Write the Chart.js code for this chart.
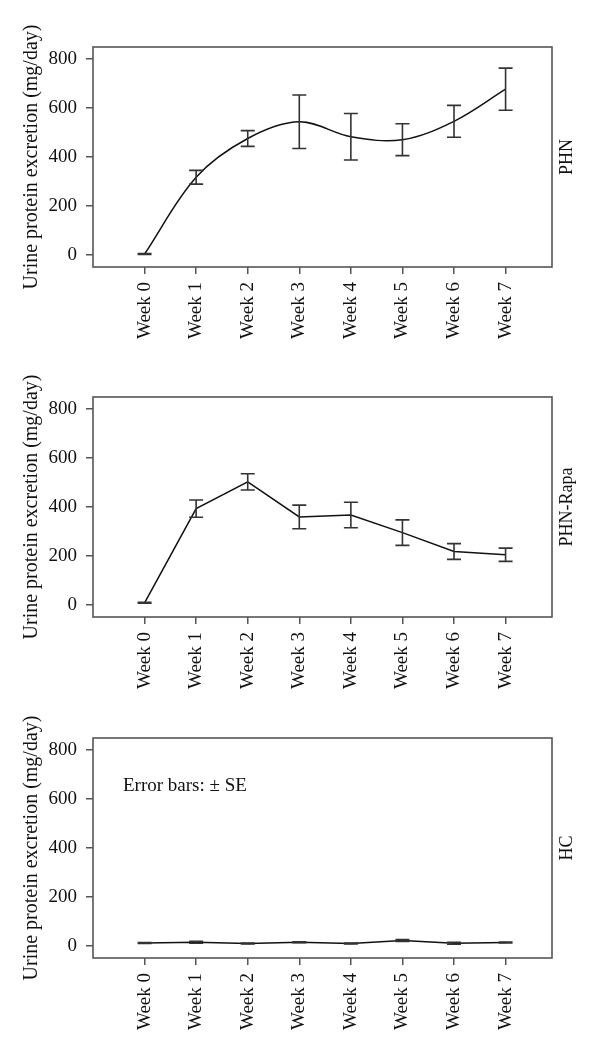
<!DOCTYPE html>
<html>
<head>
<meta charset="utf-8">
<script src="https://cdn.jsdelivr.net/npm/chart.js@4/dist/chart.umd.min.js"></script>
<style>
body { margin: 0; background: #fff; width: 600px; height: 1050px; position: relative; overflow: hidden; }
canvas { position: absolute; left: 0; }
</style>
</head>
<body>
<canvas id="phn" width="600" height="345" style="top:7px"></canvas>
<canvas id="rapa" width="600" height="345" style="top:357px"></canvas>
<canvas id="hc" width="600" height="345" style="top:698px"></canvas>
<script>
// data
const weeks = ["Week 0", "Week 1", "Week 2", "Week 3", "Week 4", "Week 5", "Week 6", "Week 7"];
const yTicks = [0, 200, 400, 600, 800];

const phnMean = [5, 318, 476, 544, 483, 471, 546, 677];
const phnSE = [2, 28, 32, 109, 95, 65, 65, 86];

const rapaMean = [10, 394, 503, 360, 368, 296, 219, 206];
const rapaSE = [2, 35, 33, 48, 52, 52, 32, 27];

const hcMean = [13, 16, 11, 16, 11, 23, 12, 15];
const hcSE = [2, 4, 2, 2, 2, 4, 4, 2];

const yTitle = "Urine protein excretion (mg/day)";
const note = "Error bars: \u00b1 SE";

Chart.defaults.font.family = "'Liberation Serif', serif";
Chart.defaults.color = "#111";

const tickFont = { family: "'Liberation Serif', serif", size: 19 };
const titleFont = { family: "'Liberation Serif', serif", size: 20 };
const axisGray = "#555";

// error bars drawn through the scales
const errorBars = {
    id: "errorBars",
    afterDatasetsDraw(chart, args, opts) {
        const ctx = chart.ctx;
        const x = chart.scales.x, y = chart.scales.y;
        const pts = chart.data.datasets[0].data;
        ctx.save();
        ctx.strokeStyle = "#333";
        ctx.lineWidth = 1.6;
        pts.forEach((p, i) => {
            const px = x.getPixelForValue(p.x);
            const hi = y.getPixelForValue(p.y + opts.se[i]);
            const lo = y.getPixelForValue(p.y - opts.se[i]);
            ctx.beginPath();
            ctx.moveTo(px, hi); ctx.lineTo(px, lo);
            ctx.moveTo(px - 7, hi); ctx.lineTo(px + 7, hi);
            ctx.moveTo(px - 7, lo); ctx.lineTo(px + 7, lo);
            ctx.stroke();
        });
        ctx.restore();
    }
};

// box round the plot, group label on the right, optional note
const frame = {
    id: "frame",
    afterDraw(chart, args, opts) {
        const ctx = chart.ctx;
        const a = chart.chartArea;
        ctx.save();
        ctx.strokeStyle = axisGray;
        ctx.lineWidth = 1.6;
        ctx.strokeRect(a.left, a.top, a.right - a.left, a.bottom - a.top);
        ctx.fillStyle = "#111";
        ctx.font = "18px 'Liberation Serif', serif";
        ctx.textAlign = "center";
        ctx.textBaseline = "middle";
        ctx.translate(567, (a.top + a.bottom) / 2);
        ctx.rotate(-Math.PI / 2);
        ctx.fillText(opts.group, 0, 0);
        ctx.restore();
        if (opts.note) {
            ctx.save();
            ctx.fillStyle = "#111";
            ctx.font = "19px 'Liberation Serif', serif";
            ctx.textBaseline = "middle";
            ctx.fillText(opts.note, a.left + 30, a.top + 48);
            ctx.restore();
        }
    }
};

function panel(id, group, mean, se, tension, noteText) {
    new Chart(document.getElementById(id), {
        type: "line",
        data: {
            datasets: [{
                data: mean.map((v, i) => ({ x: i, y: v })),
                borderColor: "#111",
                borderWidth: 1.5,
                pointRadius: 0,
                tension: tension,
                fill: false
            }]
        },
        options: {
            responsive: false,
            animation: false,
            layout: { padding: { top: 40, right: 48, left: 0, bottom: 0 } },
            plugins: {
                legend: { display: false },
                tooltip: { enabled: false },
                errorBars: { se: se },
                frame: { group: group, note: noteText }
            },
            scales: {
                x: {
                    type: "linear",
                    min: -1,
                    max: 7.9,
                    afterBuildTicks: s => { s.ticks = weeks.map((w, i) => ({ value: i })); },
                    afterFit: s => { s.height = 85; },
                    grid: { drawOnChartArea: false, drawTicks: true, tickLength: 7, color: axisGray, lineWidth: 1.5 },
                    border: { display: false },
                    ticks: {
                        autoSkip: false, maxRotation: 90, minRotation: 90, padding: 8,
                        font: tickFont, color: "#111",
                        callback: v => weeks[v]
                    }
                },
                y: {
                    min: -48,
                    max: 849,
                    afterBuildTicks: s => { s.ticks = yTicks.map(v => ({ value: v })); },
                    afterFit: s => { s.width = 93; },
                    grid: { drawOnChartArea: false, drawTicks: true, tickLength: 7, color: axisGray, lineWidth: 1.5 },
                    border: { display: false },
                    ticks: { padding: 9, font: tickFont, color: "#111" },
                    title: { display: true, text: yTitle, font: titleFont, color: "#111", padding: { top: 20, bottom: 0 } }
                }
            }
        },
        plugins: [errorBars, frame]
    });
}

panel("phn", "PHN", phnMean, phnSE, 0.35);
panel("rapa", "PHN-Rapa", rapaMean, rapaSE, 0);
panel("hc", "HC", hcMean, hcSE, 0, note);
</script>
</body>
</html>
